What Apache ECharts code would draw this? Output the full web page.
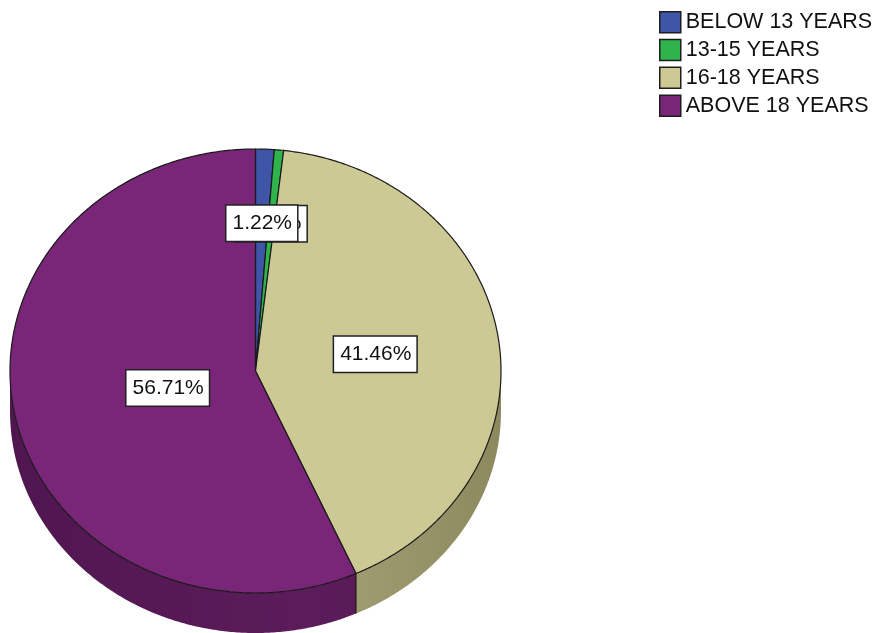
<!DOCTYPE html>
<html>
<head>
<meta charset="utf-8">
<script src="https://cdn.jsdelivr.net/npm/echarts@6/dist/echarts.min.js"></script>
<style>
  html, body { margin: 0; padding: 0; background: #ffffff; }
  #chart { width: 877px; height: 633px; }
</style>
</head>
<body>
<div id="chart"></div>
<script>
// Age groups and their share of respondents (%)
const categories = ['BELOW 13 YEARS', '13-15 YEARS', '16-18 YEARS', 'ABOVE 18 YEARS'];
const percentages = [1.22, 0.61, 41.46, 56.71];

// Slice colours: top face, and the darker side wall (left / middle / right shade)
const topColors = ['#3f55a7', '#2fb44b', '#cdc995', '#792578'];
const sideColors = [
  ['#2c3b75', '#34468a', '#2a3870'],
  ['#207d34', '#26933d', '#1f7932'],
  ['#939066', '#a6a277', '#8c895f'],
  ['#501650', '#5c1c5b', '#531852']
];

const total = percentages.reduce((a, b) => a + b, 0);
const starts = [];
percentages.reduce((acc, v) => { starts.push(acc); return acc + v; }, 0);

// Tilted pie geometry: elliptical top face with a visible rim below it
const PIE = { cx: 255.5, cy: 371, rx: 245.5, ry: 222, depth: 40 };
const STEP = 0.5 * Math.PI / 180;

// angle measured clockwise from 12 o'clock
function pt(theta, dy) {
  return [PIE.cx + PIE.rx * Math.sin(theta), PIE.cy - PIE.ry * Math.cos(theta) + (dy || 0)];
}
function arc(a0, a1, dy) {
  const n = Math.max(2, Math.ceil((a1 - a0) / STEP));
  const pts = [];
  for (let k = 0; k <= n; k++) pts.push(pt(a0 + (a1 - a0) * k / n, dy));
  return pts;
}

function renderSlice(params, api) {
  const i = params.seriesIndex;
  const value = api.value(0);
  const a0 = starts[i] / total * 2 * Math.PI;
  const a1 = a0 + value / total * 2 * Math.PI;
  const children = [];

  // side wall, only on the front half of the pie
  const w0 = Math.max(a0, Math.PI / 2);
  const w1 = Math.min(a1, 1.5 * Math.PI);
  if (w1 > w0) {
    const upper = arc(w0, w1, 0);
    const lower = arc(w0, w1, PIE.depth).reverse();
    const sc = sideColors[i];
    children.push({
      type: 'polygon',
      z2: 1,
      shape: { points: upper.concat(lower) },
      style: {
        fill: new echarts.graphic.LinearGradient(
          PIE.cx - PIE.rx, 0, PIE.cx + PIE.rx, 0,
          [{ offset: 0, color: sc[0] }, { offset: 0.6, color: sc[1] }, { offset: 1, color: sc[2] }],
          true
        ),
        stroke: null
      }
    });
  }
  // seam where this slice begins on the rim
  if (a0 > Math.PI / 2 && a0 < 1.5 * Math.PI) {
    const p = pt(a0, 0);
    children.push({
      type: 'line',
      z2: 2,
      shape: { x1: p[0], y1: p[1], x2: p[0], y2: p[1] + PIE.depth },
      style: { stroke: '#1a1a1a', lineWidth: 1.2 }
    });
  }

  // top face
  children.push({
    type: 'polygon',
    z2: 10,
    shape: { points: [[PIE.cx, PIE.cy]].concat(arc(a0, a1, 0)) },
    style: { fill: topColors[i], stroke: '#1a1a1a', lineWidth: 1.2, lineJoin: 'round' }
  });

  // percentage label at the slice centroid
  const half = (a1 - a0) / 2;
  const f = (2 / 3) * Math.sin(half) / half;
  const mid = (a0 + a1) / 2;
  children.push({
    type: 'text',
    z2: 100 - i,
    x: PIE.cx + PIE.rx * f * Math.sin(mid),
    y: PIE.cy - PIE.ry * f * Math.cos(mid),
    style: {
      text: value.toFixed(2) + '%',
      font: '21px "Liberation Sans", Arial, sans-serif',
      fill: '#111111',
      align: 'center',
      verticalAlign: 'middle',
      backgroundColor: '#ffffff',
      borderColor: '#222222',
      borderWidth: 1.5,
      padding: [6, 5, 5, 6],
      lineHeight: 24
    }
  });

  return { type: 'group', children };
}

const chart = echarts.init(document.getElementById('chart'), null, { renderer: 'canvas' });
chart.setOption({
  animation: false,
  backgroundColor: '#ffffff',
  legend: {
    orient: 'vertical',
    left: 659,
    top: 11,
    padding: 0,
    itemWidth: 21,
    itemHeight: 21,
    itemGap: 5.3,
    icon: 'rect',
    selectedMode: false,
    itemStyle: { borderColor: '#1e1e1e', borderWidth: 1.5 },
    textStyle: {
      fontSize: 21.5,
      lineHeight: 21,
      fontFamily: '"Liberation Sans", Arial, sans-serif',
      color: '#111111'
    },
    data: categories
  },
  series: categories.map((name, i) => ({
    type: 'custom',
    name,
    coordinateSystem: 'none',
    silent: true,
    itemStyle: { color: topColors[i] },
    renderItem: renderSlice,
    data: [percentages[i]]
  }))
});
</script>
</body>
</html>
